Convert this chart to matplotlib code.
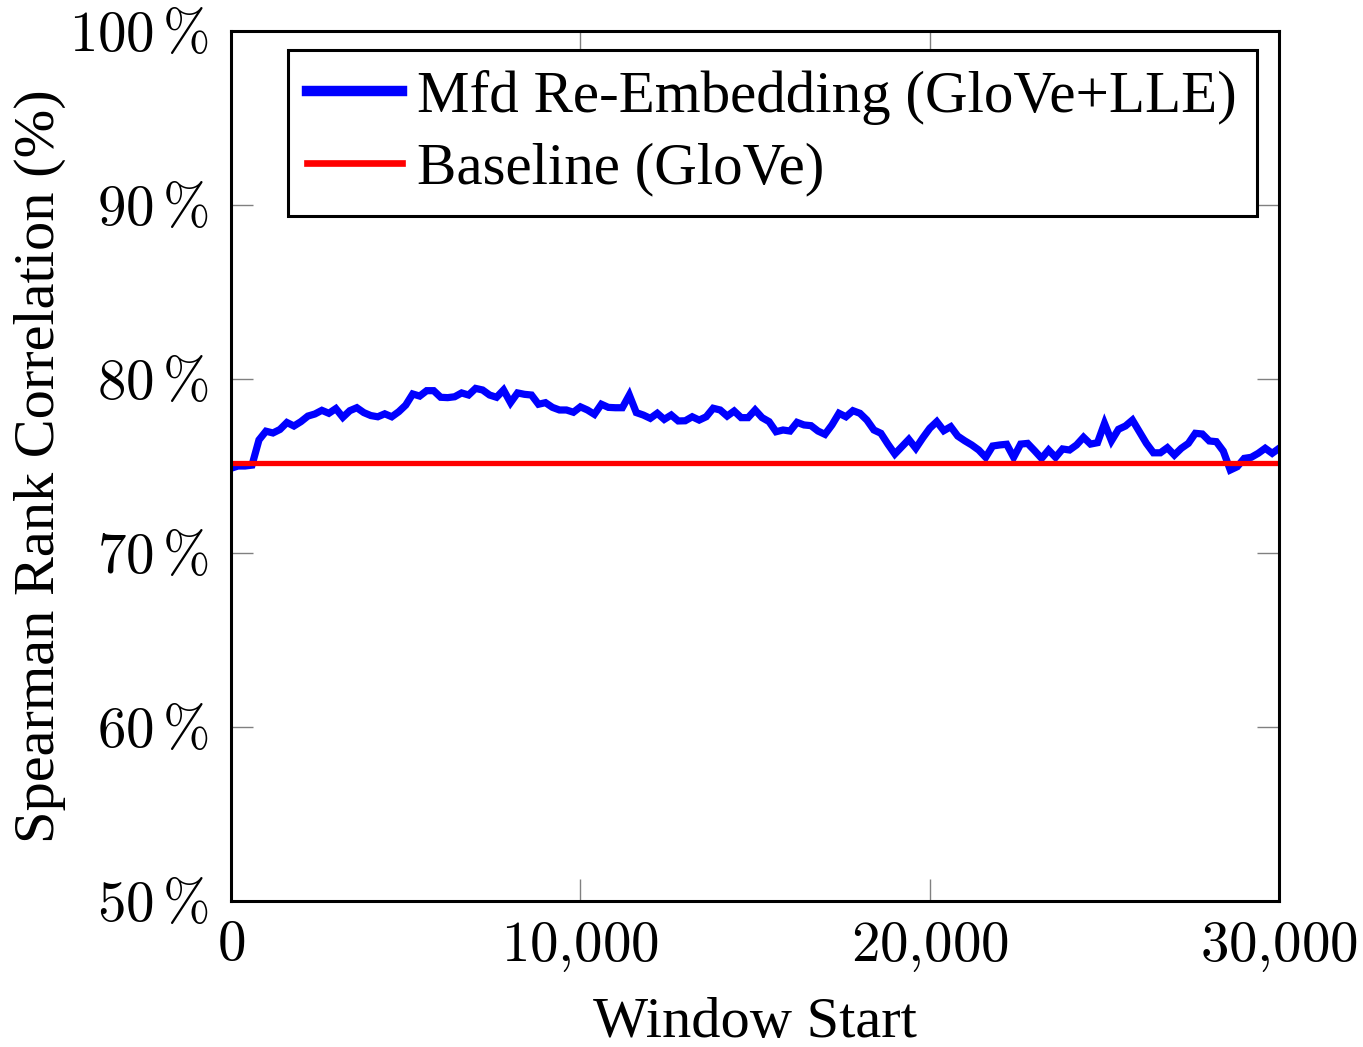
import numpy as np
import matplotlib.pyplot as plt
from matplotlib import rcParams
from matplotlib.ticker import FixedLocator

rcParams['font.family'] = ['Liberation Serif', 'DejaVu Serif']
rcParams['mathtext.fontset'] = 'cm'

# window start positions (step 200) and spearman values
window_start = np.arange(0, 30001, 200)
mfd_lle = [
    74.87, 75.0, 75.0, 75.05, 76.5, 77.0, 76.9, 77.1, 77.5, 77.3,
    77.55, 77.87, 77.99, 78.2, 78.03, 78.3, 77.8, 78.18, 78.35, 78.07,
    77.9, 77.83, 78.0, 77.83, 78.12, 78.5, 79.14, 79.02, 79.33, 79.33,
    78.95, 78.93, 78.98, 79.2, 79.08, 79.46, 79.37, 79.08, 78.95, 79.37,
    78.64, 79.2, 79.12, 79.08, 78.55, 78.64, 78.37, 78.22, 78.22, 78.09,
    78.4, 78.22, 77.97, 78.55, 78.37, 78.35, 78.35, 79.08, 78.07, 77.93,
    77.74, 78.03, 77.68, 77.93, 77.59, 77.6, 77.83, 77.64, 77.83, 78.32,
    78.22, 77.87, 78.16, 77.78, 77.78, 78.22, 77.78, 77.55, 76.97, 77.07,
    77.01, 77.51, 77.36, 77.32, 77.01, 76.82, 77.36, 78.03, 77.83, 78.18,
    78.03, 77.64, 77.07, 76.88, 76.26, 75.69, 76.11, 76.53, 76.02, 76.62,
    77.17, 77.55, 77.03, 77.26, 76.72, 76.45, 76.21, 75.92, 75.5, 76.15,
    76.21, 76.25, 75.5, 76.26, 76.3, 75.88, 75.44, 75.92, 75.5, 75.98,
    75.92, 76.21, 76.65, 76.26, 76.34, 77.45, 76.45, 77.11, 77.3, 77.64,
    76.97, 76.3, 75.76, 75.76, 76.05, 75.63, 76.02, 76.3, 76.88, 76.84,
    76.44, 76.4, 75.86, 74.77, 74.96, 75.44, 75.5, 75.73, 76.02, 75.73,
    76.02,
]
baseline_glove = 75.2

x_ticks = [0, 10000, 20000, 30000]
x_labels = [r'$0$', r'$10{,}000$', r'$20{,}000$', r'$30{,}000$']
y_ticks = [50, 60, 70, 80, 90, 100]
y_labels = [r'$%d\,\%%$' % v for v in y_ticks]

fig = plt.figure(figsize=(13.63, 10.47), dpi=100)
ax = fig.add_axes([0.1695, 0.1394, 0.769, 0.831])

ax.plot(window_start, mfd_lle, color='#0000ff', lw=5.2, solid_joinstyle='miter',
        label='Mfd Re-Embedding (GloVe+LLE)')
ax.axhline(baseline_glove, color='#ff0000', lw=3.8, label='Baseline (GloVe)')

ax.set_xlim(0, 30000)
ax.set_ylim(50, 100)
ax.xaxis.set_major_locator(FixedLocator(x_ticks))
ax.yaxis.set_major_locator(FixedLocator(y_ticks))
ax.set_xticklabels(x_labels)
ax.set_yticklabels(y_labels)
ax.tick_params(direction='in', length=16, width=1.0, color='#808080',
               top=True, right=True, labelsize=41)
ax.tick_params(axis='x', pad=14)
ax.tick_params(axis='y', pad=16)
for s in ax.spines.values():
    s.set_linewidth(2.2)

ax.set_xlabel('Window Start', fontsize=42, labelpad=16)
ax.set_ylabel('Spearman Rank Correlation (%)', fontsize=42, labelpad=2)

leg = ax.legend(loc='upper left', bbox_to_anchor=(0.054, 0.978), fontsize=42.5,
                handlelength=1.6, handletextpad=0.27, borderpad=0.33,
                labelspacing=0.3, fancybox=False, framealpha=1,
                edgecolor='black', borderaxespad=0)
leg.get_frame().set_linewidth(2.2)
leg.get_lines()[0].set_linewidth(7.5)
leg.get_lines()[1].set_linewidth(4.8)

plt.savefig('out.png', dpi=100)
